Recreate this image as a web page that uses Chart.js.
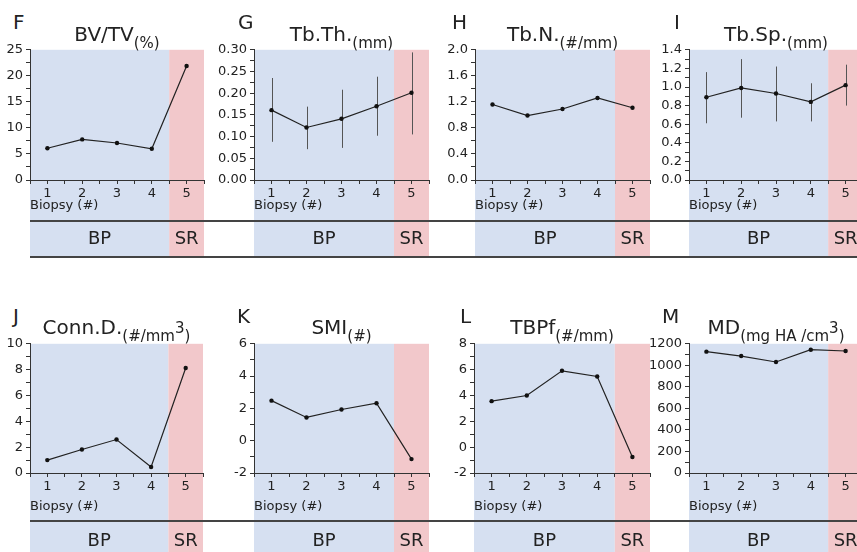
<!DOCTYPE html>
<html lang="en">
<head>
<meta charset="UTF-8">
<title>Biopsy parameters</title>
<script src="https://cdn.jsdelivr.net/npm/chart.js"></script>
<style>
  html, body { margin: 0; padding: 0; background: #fff; overflow: hidden; }
  body { width: 857px; height: 552px; position: relative; font-family: 'DejaVu Sans', sans-serif; color: #222; }
  canvas { position: absolute; }
  .letter, .title { position: absolute; font-size: 20px; line-height: 20px; white-space: nowrap; z-index: 4; }
  .title { text-align: center; }
  .title sub { font-size: 15px; vertical-align: baseline; position: relative; top: 7px; }
  .title sup { font-size: 15px; vertical-align: baseline; position: relative; top: -8px; }
  .rule { position: absolute; left: 30px; width: 827px; height: 2px; background: #444; z-index: 5; }
</style>
</head>
<body>
<script>
// biopsy number on the x axis, and the two phases shaded behind
const biopsy = [1, 2, 3, 4, 5];
const phases = ['BP', 'SR'];

// values
const bvtv = [6.1, 7.8, 7.1, 6.0, 21.9];
const tbth = [0.161, 0.121, 0.141, 0.170, 0.201];
const tbthLo = [0.088, 0.071, 0.074, 0.102, 0.105];
const tbthHi = [0.235, 0.169, 0.208, 0.238, 0.294];
const tbn = [1.16, 0.99, 1.09, 1.26, 1.11];
const tbsp = [0.89, 0.99, 0.93, 0.84, 1.02];
const tbspLo = [0.61, 0.67, 0.63, 0.63, 0.80];
const tbspHi = [1.16, 1.30, 1.22, 1.04, 1.24];
const connd = [1.0, 1.82, 2.59, 0.46, 8.13];
const smi = [2.48, 1.44, 1.93, 2.32, -1.14];
const tbpf = [3.56, 4.0, 5.91, 5.47, -0.76];
const md = [1127, 1086, 1031, 1145, 1133];

const FONT = "'DejaVu Sans', sans-serif";
const yW = 45, padT = 10, padR = 4;

const rows = [
  { top: 49, bottom: 180, end: 257, rules: [221, 257], phaseY: 239, titleY: 41, letterY: 29, axisPad: 44 },
  { top: 343, bottom: 473, end: 552, rules: [521], phaseY: 541, titleY: 334, letterY: 323, axisPad: 38 }
];

const panels = [
  { tag: 'F', name: 'BV/TV', unit: '(%)', data: bvtv, min: 0, max: 25, step: 5, dec: 0, row: 0, left: 30, right: 204, lx: 13 },
  { tag: 'G', name: 'Tb.Th.', unit: '(mm)', data: tbth, lo: tbthLo, hi: tbthHi, min: 0, max: 0.3, step: 0.05, dec: 2, row: 0, left: 254, right: 429, lx: 238 },
  { tag: 'H', name: 'Tb.N.', unit: '(#/mm)', data: tbn, min: 0, max: 2, step: 0.4, dec: 1, row: 0, left: 475, right: 650, lx: 452 },
  { tag: 'I', name: 'Tb.Sp.', unit: '(mm)', data: tbsp, lo: tbspLo, hi: tbspHi, min: 0, max: 1.4, step: 0.2, dec: 1, row: 0, left: 689, right: 863, lx: 674 },
  { tag: 'J', name: 'Conn.D.', unit: '(#/mm<sup>3</sup>)', data: connd, min: 0, max: 10, step: 2, dec: 0, row: 1, left: 30, right: 203, lx: 13 },
  { tag: 'K', name: 'SMI', unit: '(#)', data: smi, min: -2, max: 6, step: 2, dec: 0, row: 1, left: 254, right: 429, lx: 237 },
  { tag: 'L', name: 'TBPf', unit: '(#/mm)', data: tbpf, min: -2, max: 8, step: 2, dec: 0, row: 1, left: 474, right: 650, lx: 460 },
  { tag: 'M', name: 'MD', unit: '(mg HA /cm<sup>3</sup>)', data: md, min: 0, max: 1200, step: 200, dec: 0, row: 1, left: 689, right: 863, lx: 662 }
];

// shaded BP / SR columns running from the plot top down through the label strip
const bands = {
  id: 'bands',
  beforeDraw(chart, args, opts) {
    const c = chart.ctx, x = chart.scales.x, a = chart.chartArea;
    const edges = [0.5, 4.5, 5.5];
    const fills = ['#d6e0f1', '#f2c8cb'];
    c.save();
    for (let i = 0; i < 2; i++) {
      const x0 = x.getPixelForValue(edges[i]), x1 = x.getPixelForValue(edges[i + 1]);
      c.fillStyle = fills[i];
      c.fillRect(x0, a.top, x1 - x0, chart.height - a.top);
    }
    c.restore();
  },
  afterDraw(chart, args, opts) {
    const c = chart.ctx, x = chart.scales.x;
    const edges = [0.5, 4.5, 5.5];
    c.save();
    c.font = '18px ' + FONT;
    c.fillStyle = '#222';
    c.textAlign = 'center';
    c.textBaseline = 'middle';
    for (let i = 0; i < 2; i++) {
      const cx = (x.getPixelForValue(edges[i]) + x.getPixelForValue(edges[i + 1])) / 2;
      c.fillText(phases[i], cx, opts.y);
    }
    c.restore();
  }
};

// vertical error bars for the panels that have them
const errbars = {
  id: 'errbars',
  beforeDatasetsDraw(chart, args, opts) {
    if (!opts.lo) return;
    const c = chart.ctx, x = chart.scales.x, y = chart.scales.y;
    c.save();
    c.strokeStyle = '#555';
    c.lineWidth = 1;
    biopsy.forEach((b, i) => {
      const px = Math.round(x.getPixelForValue(b)) + 0.5;
      c.beginPath();
      c.moveTo(px, y.getPixelForValue(opts.lo[i]));
      c.lineTo(px, y.getPixelForValue(opts.hi[i]));
      c.stroke();
    });
    c.restore();
  }
};

rows.forEach(r => r.rules.forEach(y => {
  const d = document.createElement('div');
  d.className = 'rule';
  d.style.top = (y - 1) + 'px';
  document.body.appendChild(d);
}));

panels.forEach(p => {
  const r = rows[p.row];
  const w = p.right - p.left + yW + padR;
  const h = r.end - (r.top - padT);
  const cv = document.createElement('canvas');
  cv.width = w; cv.height = h;
  cv.style.left = (p.left - yW) + 'px';
  cv.style.top = (r.top - padT) + 'px';
  cv.style.width = w + 'px';
  cv.style.height = h + 'px';
  document.body.appendChild(cv);

  const letter = document.createElement('div');
  letter.className = 'letter';
  letter.textContent = p.tag;
  letter.style.left = p.lx + 'px';
  letter.style.top = (r.letterY - 17) + 'px';
  document.body.appendChild(letter);

  const title = document.createElement('div');
  title.className = 'title';
  title.innerHTML = p.name + '<sub>' + p.unit + '</sub>';
  title.style.left = p.left + 'px';
  title.style.width = (p.right - p.left) + 'px';
  title.style.top = (r.titleY - 17) + 'px';
  document.body.appendChild(title);

  const isMajor = v => {
    const k = v / p.step;
    return Math.abs(k - Math.round(k)) < 1e-6;
  };

  new Chart(cv, {
    type: 'line',
    data: {
      datasets: [{
        data: biopsy.map((b, i) => ({ x: b, y: p.data[i] })),
        borderColor: '#222',
        borderWidth: 1.2,
        pointRadius: 2.2,
        pointBorderWidth: 0,
        pointBackgroundColor: '#111',
        tension: 0
      }]
    },
    options: {
      responsive: false,
      animation: false,
      layout: { padding: { top: padT, right: padR, left: 0, bottom: 0 } },
      plugins: {
        legend: { display: false },
        tooltip: { enabled: false },
        bands: { y: r.phaseY - (r.top - padT) },
        errbars: { lo: p.lo, hi: p.hi }
      },
      scales: {
        x: {
          type: 'linear',
          min: 0.5,
          max: 5.5,
          ticks: {
            stepSize: 0.5,
            autoSkip: false,
            maxRotation: 0,
            minRotation: 0,
            padding: 2,
            color: '#222',
            font: { family: FONT, size: 13 },
            callback: v => Number.isInteger(v) ? String(v) : ''
          },
          grid: { drawOnChartArea: false, tickLength: 4, color: '#333' },
          border: { color: '#333', width: 1 },
          title: {
            display: true,
            text: 'Biopsy (#)',
            align: 'start',
            color: '#222',
            font: { family: FONT, size: 13 },
            padding: { top: 0, bottom: r.axisPad }
          },
          afterFit: s => { s.height = r.end - r.bottom; }
        },
        y: {
          min: p.min,
          max: p.max,
          ticks: {
            stepSize: p.step / 2,
            autoSkip: false,
            padding: 3,
            color: '#222',
            font: { family: FONT, size: 13 },
            callback: v => isMajor(v) ? Number(v).toFixed(p.dec) : ''
          },
          grid: { drawOnChartArea: false, tickLength: 4, color: '#333' },
          border: { color: '#333', width: 1 },
          afterFit: s => { s.width = yW; }
        }
      }
    },
    plugins: [bands, errbars]
  });
});
</script>
</body>
</html>
